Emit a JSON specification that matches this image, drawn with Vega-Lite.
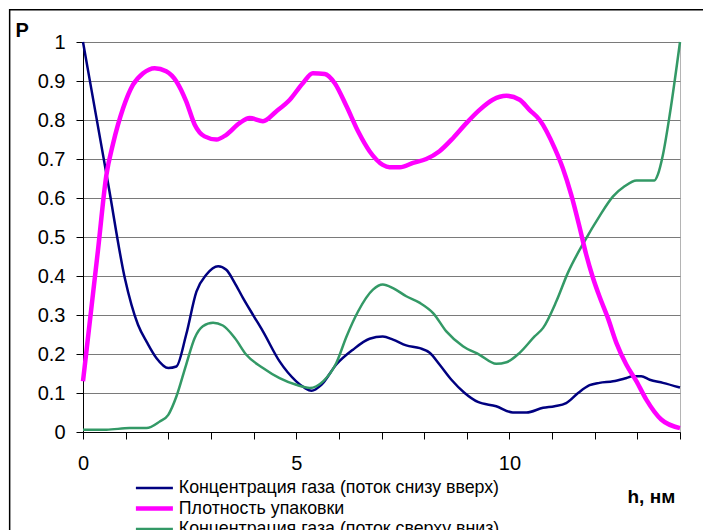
{
  "$schema": "https://vega.github.io/schema/vega-lite/v6.json",
  "width": 597,
  "height": 390,
  "autosize": {"type": "none"},
  "padding": {"left": 83, "top": 42, "right": 23, "bottom": 98},
  "background": "white",
  "config": {"font": "Liberation Sans", "view": {"stroke": "#b4b4b4", "strokeWidth": 1}},
  "resolve": {"axis": {"x": "independent", "y": "independent"}},
  "layer": [
    {
      "data": {"values": [{"frame": 1}]},
      "mark": {"type": "rect", "filled": false, "color": "black", "stroke": "black", "strokeWidth": 1.5, "clip": false},
      "encoding": {
        "x": {"datum": -1.72, "type": "quantitative", "scale": {"domain": [0, 14], "nice": false, "zero": false}, "axis": null},
        "x2": {"datum": 14.8},
        "y": {"datum": 1.083, "type": "quantitative", "scale": {"domain": [0, 1], "nice": false, "zero": false}, "axis": null},
        "y2": {"datum": -0.3}
      }
    },
    {
      "data": {"values": [
        {"series": "Концентрация газа (поток снизу вверх)", "h": 0, "P": 1.0},
        {"series": "Концентрация газа (поток снизу вверх)", "h": 0.3, "P": 0.815},
        {"series": "Концентрация газа (поток снизу вверх)", "h": 0.6, "P": 0.63},
        {"series": "Концентрация газа (поток снизу вверх)", "h": 0.98, "P": 0.395},
        {"series": "Концентрация газа (поток снизу вверх)", "h": 1.29, "P": 0.275},
        {"series": "Концентрация газа (поток снизу вверх)", "h": 1.5, "P": 0.23},
        {"series": "Концентрация газа (поток снизу вверх)", "h": 1.72, "P": 0.19},
        {"series": "Концентрация газа (поток снизу вверх)", "h": 2.0, "P": 0.164},
        {"series": "Концентрация газа (поток снизу вверх)", "h": 2.19, "P": 0.168},
        {"series": "Концентрация газа (поток снизу вверх)", "h": 2.42, "P": 0.25},
        {"series": "Концентрация газа (поток снизу вверх)", "h": 2.66, "P": 0.36},
        {"series": "Концентрация газа (поток снизу вверх)", "h": 2.89, "P": 0.403},
        {"series": "Концентрация газа (поток снизу вверх)", "h": 3.17, "P": 0.425},
        {"series": "Концентрация газа (поток снизу вверх)", "h": 3.36, "P": 0.416},
        {"series": "Концентрация газа (поток снизу вверх)", "h": 3.56, "P": 0.382},
        {"series": "Концентрация газа (поток снизу вверх)", "h": 3.75, "P": 0.344},
        {"series": "Концентрация газа (поток снизу вверх)", "h": 4.0, "P": 0.298},
        {"series": "Концентрация газа (поток снизу вверх)", "h": 4.22, "P": 0.258},
        {"series": "Концентрация газа (поток снизу вверх)", "h": 4.61, "P": 0.181},
        {"series": "Концентрация газа (поток снизу вверх)", "h": 5.0, "P": 0.13},
        {"series": "Концентрация газа (поток снизу вверх)", "h": 5.2, "P": 0.113},
        {"series": "Концентрация газа (поток снизу вверх)", "h": 5.36, "P": 0.106},
        {"series": "Концентрация газа (поток снизу вверх)", "h": 5.59, "P": 0.121},
        {"series": "Концентрация газа (поток снизу вверх)", "h": 5.94, "P": 0.173},
        {"series": "Концентрация газа (поток снизу вверх)", "h": 6.33, "P": 0.211},
        {"series": "Концентрация газа (поток снизу вверх)", "h": 6.72, "P": 0.239},
        {"series": "Концентрация газа (поток снизу вверх)", "h": 7.03, "P": 0.245},
        {"series": "Концентрация газа (поток снизу вверх)", "h": 7.27, "P": 0.237},
        {"series": "Концентрация газа (поток снизу вверх)", "h": 7.58, "P": 0.222},
        {"series": "Концентрация газа (поток снизу вверх)", "h": 7.9, "P": 0.215},
        {"series": "Концентрация газа (поток снизу вверх)", "h": 8.13, "P": 0.203},
        {"series": "Концентрация газа (поток снизу вверх)", "h": 8.36, "P": 0.173},
        {"series": "Концентрация газа (поток снизу вверх)", "h": 8.64, "P": 0.134},
        {"series": "Концентрация газа (поток снизу вверх)", "h": 8.95, "P": 0.1},
        {"series": "Концентрация газа (поток снизу вверх)", "h": 9.26, "P": 0.077},
        {"series": "Концентрация газа (поток снизу вверх)", "h": 9.69, "P": 0.066},
        {"series": "Концентрация газа (поток снизу вверх)", "h": 10.08, "P": 0.05},
        {"series": "Концентрация газа (поток снизу вверх)", "h": 10.4, "P": 0.05},
        {"series": "Концентрация газа (поток снизу вверх)", "h": 10.79, "P": 0.062},
        {"series": "Концентрация газа (поток снизу вверх)", "h": 11.06, "P": 0.066},
        {"series": "Концентрация газа (поток снизу вверх)", "h": 11.33, "P": 0.074},
        {"series": "Концентрация газа (поток снизу вверх)", "h": 11.61, "P": 0.1},
        {"series": "Концентрация газа (поток снизу вверх)", "h": 11.88, "P": 0.12},
        {"series": "Концентрация газа (поток снизу вверх)", "h": 12.11, "P": 0.126},
        {"series": "Концентрация газа (поток снизу вверх)", "h": 12.43, "P": 0.13},
        {"series": "Концентрация газа (поток снизу вверх)", "h": 12.7, "P": 0.137},
        {"series": "Концентрация газа (поток снизу вверх)", "h": 12.9, "P": 0.143},
        {"series": "Концентрация газа (поток снизу вверх)", "h": 13.09, "P": 0.143},
        {"series": "Концентрация газа (поток снизу вверх)", "h": 13.29, "P": 0.134},
        {"series": "Концентрация газа (поток снизу вверх)", "h": 13.6, "P": 0.126},
        {"series": "Концентрация газа (поток снизу вверх)", "h": 14, "P": 0.114},

        {"series": "Концентрация газа (поток сверху вниз)", "h": 0, "P": 0.006},
        {"series": "Концентрация газа (поток сверху вниз)", "h": 0.55, "P": 0.006},
        {"series": "Концентрация газа (поток сверху вниз)", "h": 1.09, "P": 0.01},
        {"series": "Концентрация газа (поток сверху вниз)", "h": 1.49, "P": 0.01},
        {"series": "Концентрация газа (поток сверху вниз)", "h": 1.8, "P": 0.027},
        {"series": "Концентрация газа (поток сверху вниз)", "h": 2.0, "P": 0.044},
        {"series": "Концентрация газа (поток сверху вниз)", "h": 2.19, "P": 0.091},
        {"series": "Концентрация газа (поток сверху вниз)", "h": 2.42, "P": 0.173},
        {"series": "Концентрация газа (поток сверху вниз)", "h": 2.62, "P": 0.241},
        {"series": "Концентрация газа (поток сверху вниз)", "h": 2.81, "P": 0.271},
        {"series": "Концентрация газа (поток сверху вниз)", "h": 3.05, "P": 0.28},
        {"series": "Концентрация газа (поток сверху вниз)", "h": 3.28, "P": 0.273},
        {"series": "Концентрация газа (поток сверху вниз)", "h": 3.56, "P": 0.241},
        {"series": "Концентрация газа (поток сверху вниз)", "h": 3.83, "P": 0.198},
        {"series": "Концентрация газа (поток сверху вниз)", "h": 4.22, "P": 0.164},
        {"series": "Концентрация газа (поток сверху вниз)", "h": 4.61, "P": 0.138},
        {"series": "Концентрация газа (поток сверху вниз)", "h": 5.0, "P": 0.121},
        {"series": "Концентрация газа (поток сверху вниз)", "h": 5.32, "P": 0.113},
        {"series": "Концентрация газа (поток сверху вниз)", "h": 5.63, "P": 0.13},
        {"series": "Концентрация газа (поток сверху вниз)", "h": 5.94, "P": 0.177},
        {"series": "Концентрация газа (поток сверху вниз)", "h": 6.18, "P": 0.245},
        {"series": "Концентрация газа (поток сверху вниз)", "h": 6.45, "P": 0.309},
        {"series": "Концентрация газа (поток сверху вниз)", "h": 6.8, "P": 0.365},
        {"series": "Концентрация газа (поток сверху вниз)", "h": 7.03, "P": 0.378},
        {"series": "Концентрация газа (поток сверху вниз)", "h": 7.27, "P": 0.369},
        {"series": "Концентрация газа (поток сверху вниз)", "h": 7.58, "P": 0.348},
        {"series": "Концентрация газа (поток сверху вниз)", "h": 7.9, "P": 0.331},
        {"series": "Концентрация газа (поток сверху вниз)", "h": 8.21, "P": 0.305},
        {"series": "Концентрация газа (поток сверху вниз)", "h": 8.52, "P": 0.258},
        {"series": "Концентрация газа (поток сверху вниз)", "h": 8.91, "P": 0.22},
        {"series": "Концентрация газа (поток сверху вниз)", "h": 9.3, "P": 0.198},
        {"series": "Концентрация газа (поток сверху вниз)", "h": 9.69, "P": 0.175},
        {"series": "Концентрация газа (поток сверху вниз)", "h": 9.93, "P": 0.179},
        {"series": "Концентрация газа (поток сверху вниз)", "h": 10.24, "P": 0.203},
        {"series": "Концентрация газа (поток сверху вниз)", "h": 10.59, "P": 0.245},
        {"series": "Концентрация газа (поток сверху вниз)", "h": 10.79, "P": 0.267},
        {"series": "Концентрация газа (поток сверху вниз)", "h": 11.1, "P": 0.335},
        {"series": "Концентрация газа (поток сверху вниз)", "h": 11.37, "P": 0.408},
        {"series": "Концентрация газа (поток сверху вниз)", "h": 11.76, "P": 0.489},
        {"series": "Концентрация газа (поток сверху вниз)", "h": 12.11, "P": 0.553},
        {"series": "Концентрация газа (поток сверху вниз)", "h": 12.43, "P": 0.604},
        {"series": "Концентрация газа (поток сверху вниз)", "h": 12.7, "P": 0.63},
        {"series": "Концентрация газа (поток сверху вниз)", "h": 12.98, "P": 0.645},
        {"series": "Концентрация газа (поток сверху вниз)", "h": 13.4, "P": 0.645},
        {"series": "Концентрация газа (поток сверху вниз)", "h": 13.48, "P": 0.66},
        {"series": "Концентрация газа (поток сверху вниз)", "h": 13.6, "P": 0.711},
        {"series": "Концентрация газа (поток сверху вниз)", "h": 13.76, "P": 0.814},
        {"series": "Концентрация газа (поток сверху вниз)", "h": 14, "P": 1.0},

        {"series": "Плотность упаковки", "h": 0, "P": 0.13},
        {"series": "Плотность упаковки", "h": 0.35, "P": 0.465},
        {"series": "Плотность упаковки", "h": 0.55, "P": 0.66},
        {"series": "Плотность упаковки", "h": 0.7, "P": 0.737},
        {"series": "Плотность упаковки", "h": 0.94, "P": 0.83},
        {"series": "Плотность упаковки", "h": 1.17, "P": 0.89},
        {"series": "Плотность упаковки", "h": 1.41, "P": 0.92},
        {"series": "Плотность упаковки", "h": 1.68, "P": 0.933},
        {"series": "Плотность упаковки", "h": 1.95, "P": 0.925},
        {"series": "Плотность упаковки", "h": 2.19, "P": 0.899},
        {"series": "Плотность упаковки", "h": 2.42, "P": 0.848},
        {"series": "Плотность упаковки", "h": 2.62, "P": 0.788},
        {"series": "Плотность упаковки", "h": 2.85, "P": 0.758},
        {"series": "Плотность упаковки", "h": 3.13, "P": 0.75},
        {"series": "Плотность упаковки", "h": 3.36, "P": 0.762},
        {"series": "Плотность упаковки", "h": 3.67, "P": 0.792},
        {"series": "Плотность упаковки", "h": 3.91, "P": 0.805},
        {"series": "Плотность упаковки", "h": 4.22, "P": 0.797},
        {"series": "Плотность упаковки", "h": 4.53, "P": 0.822},
        {"series": "Плотность упаковки", "h": 4.85, "P": 0.852},
        {"series": "Плотность упаковки", "h": 5.16, "P": 0.895},
        {"series": "Плотность упаковки", "h": 5.39, "P": 0.92},
        {"series": "Плотность упаковки", "h": 5.67, "P": 0.918},
        {"series": "Плотность упаковки", "h": 5.9, "P": 0.895},
        {"series": "Плотность упаковки", "h": 6.18, "P": 0.835},
        {"series": "Плотность упаковки", "h": 6.45, "P": 0.771},
        {"series": "Плотность упаковки", "h": 6.72, "P": 0.72},
        {"series": "Плотность упаковки", "h": 7.03, "P": 0.685},
        {"series": "Плотность упаковки", "h": 7.19, "P": 0.679},
        {"series": "Плотность упаковки", "h": 7.43, "P": 0.679},
        {"series": "Плотность упаковки", "h": 7.74, "P": 0.69},
        {"series": "Плотность упаковки", "h": 8.05, "P": 0.7},
        {"series": "Плотность упаковки", "h": 8.36, "P": 0.72},
        {"series": "Плотность упаковки", "h": 8.68, "P": 0.754},
        {"series": "Плотность упаковки", "h": 8.99, "P": 0.792},
        {"series": "Плотность упаковки", "h": 9.3, "P": 0.826},
        {"series": "Плотность упаковки", "h": 9.61, "P": 0.852},
        {"series": "Плотность упаковки", "h": 9.93, "P": 0.862},
        {"series": "Плотность упаковки", "h": 10.24, "P": 0.852},
        {"series": "Плотность упаковки", "h": 10.47, "P": 0.826},
        {"series": "Плотность упаковки", "h": 10.71, "P": 0.8},
        {"series": "Плотность упаковки", "h": 11.06, "P": 0.728},
        {"series": "Плотность упаковки", "h": 11.25, "P": 0.677},
        {"series": "Плотность упаковки", "h": 11.45, "P": 0.608},
        {"series": "Плотность упаковки", "h": 11.65, "P": 0.523},
        {"series": "Плотность упаковки", "h": 11.8, "P": 0.455},
        {"series": "Плотность упаковки", "h": 11.96, "P": 0.395},
        {"series": "Плотность упаковки", "h": 12.11, "P": 0.348},
        {"series": "Плотность упаковки", "h": 12.31, "P": 0.292},
        {"series": "Плотность упаковки", "h": 12.51, "P": 0.228},
        {"series": "Плотность упаковки", "h": 12.74, "P": 0.173},
        {"series": "Плотность упаковки", "h": 12.98, "P": 0.13},
        {"series": "Плотность упаковки", "h": 13.21, "P": 0.083},
        {"series": "Плотность упаковки", "h": 13.56, "P": 0.032},
        {"series": "Плотность упаковки", "h": 14, "P": 0.01}
      ]},
      "mark": {"type": "line", "interpolate": "monotone"},
      "encoding": {
        "x": {
          "field": "h", "type": "quantitative",
          "scale": {"domain": [0, 14], "nice": false, "zero": false},
          "axis": {
            "values": [0, 1, 2, 3, 4, 5, 6, 7, 8, 9, 10, 11, 12, 13, 14],
            "labelExpr": "datum.value % 5 === 0 ? datum.label : ''",
            "grid": false,
            "domainColor": "black", "domainWidth": 1,
            "tickColor": "black", "tickSize": 7, "tickWidth": 1,
            "labelFontSize": 20, "labelColor": "black", "labelPadding": 14,
            "labelFlush": false, "labelOverlap": false,
            "title": "h, нм", "titleFontSize": 19, "titleFontWeight": "bold", "titleColor": "black",
            "titleX": 544, "titleY": 70, "titleAlign": "left", "titleBaseline": "alphabetic"
          }
        },
        "y": {
          "field": "P", "type": "quantitative",
          "scale": {"domain": [0, 1], "nice": false, "zero": false},
          "axis": {
            "values": [0, 0.1, 0.2, 0.3, 0.4, 0.5, 0.6, 0.7, 0.8, 0.9, 1],
            "tickCount": 11,
            "format": "~g",
            "labelOverlap": false,
            "grid": true, "gridColor": "#7a7a7a", "gridWidth": 1,
            "domainColor": "black", "domainWidth": 1,
            "tickColor": "black", "tickSize": 7, "tickWidth": 1,
            "labelFontSize": 20, "labelColor": "black", "labelPadding": 11,
            "title": "P", "titleAngle": 0, "titleFontSize": 20, "titleFontWeight": "bold", "titleColor": "black",
            "titleX": -68, "titleY": -6, "titleAlign": "left", "titleBaseline": "alphabetic"
          }
        },
        "color": {
          "field": "series", "type": "nominal",
          "scale": {
            "domain": ["Концентрация газа (поток снизу вверх)", "Плотность упаковки", "Концентрация газа (поток сверху вниз)"],
            "range": ["#000080", "#FF00FF", "#339966"]
          },
          "legend": {
            "orient": "none", "legendX": 62.5, "legendY": 437,
            "title": null,
            "symbolType": "M-3.7,0H3.7", "symbolSize": 100, "symbolStrokeWidth": 2.5,
            "labelFontSize": 17.8, "labelColor": "black", "labelOffset": 15.5, "labelLimit": 500,
            "rowPadding": 1.6,
            "encode": {"symbols": {"update": {"strokeWidth": {"signal": "datum.value === 'Плотность упаковки' ? 4.5 : 2.5"}}}}
          }
        },
        "strokeWidth": {"condition": {"test": "datum.series === 'Плотность упаковки'", "value": 4.5}, "value": 2.5}
      }
    }
  ]
}
